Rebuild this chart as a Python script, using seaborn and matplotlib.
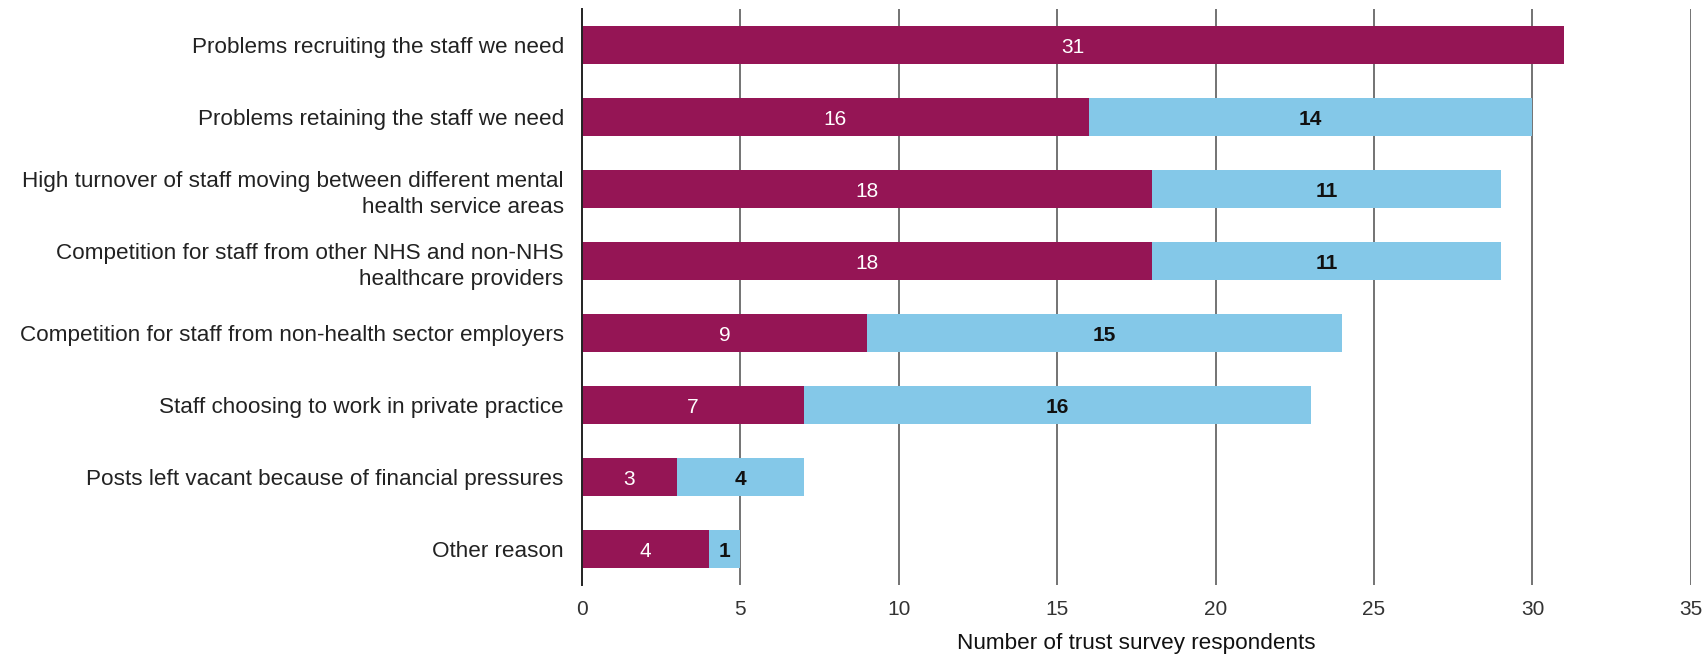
import matplotlib
matplotlib.use("Agg")
import matplotlib.pyplot as plt
import seaborn as sns
import pandas as pd
import numpy as np

categories = [
    "Problems recruiting the staff we need",
    "Problems retaining the staff we need",
    "High turnover of staff moving between different mental\nhealth service areas",
    "Competition for staff from other NHS and non-NHS\nhealthcare providers",
    "Competition for staff from non-health sector employers",
    "Staff choosing to work in private practice",
    "Posts left vacant because of financial pressures",
    "Other reason",
]
maroon_values = [31, 16, 18, 18, 9, 7, 3, 4]
blue_values = [0, 14, 11, 11, 15, 16, 4, 1]
x_ticks = [0, 5, 10, 15, 20, 25, 30, 35]
x_label = "Number of trust survey respondents"

MAROON = "#951555"
BLUE = "#84C8E8"

sns.set_theme(style="white")
plt.rcParams["font.family"] = ["Liberation Sans", "DejaVu Sans"]

df = pd.DataFrame({
    "category": categories,
    "maroon": maroon_values,
    "blue": blue_values,
})
df["total"] = df["maroon"] + df["blue"]

fig = plt.figure(figsize=(17.08, 6.59), dpi=100)
ax = fig.add_axes([0.3407, 0.1123, 0.6493, 0.8737])

sns.barplot(data=df, y="category", x="total", color=BLUE, orient="h",
            width=0.53, ax=ax, saturation=1, zorder=3, linewidth=0, edgecolor="none")
sns.barplot(data=df, y="category", x="maroon", color=MAROON, orient="h",
            width=0.53, ax=ax, saturation=1, zorder=3, linewidth=0, edgecolor="none")

for i, (m, b) in enumerate(zip(maroon_values, blue_values)):
    if m > 0:
        ax.text(m / 2, i + 0.03, str(m), ha="center", va="center", color="white",
                fontsize=15, zorder=5)
    if b > 0:
        ax.text(m + b / 2, i + 0.03, str(b), ha="center", va="center", color="#111111",
                fontsize=15, fontweight="bold", zorder=5)

ax.set_xlim(0, 35)
ax.set_ylim(7.5, -0.5)
ax.set_xticks(x_ticks)
ax.set_xticklabels([str(t) for t in x_ticks], fontsize=15, color="#333333")
ax.tick_params(axis="x", length=0, pad=11)
ax.tick_params(axis="y", length=0, pad=13, labelsize=16.2, labelcolor="#222222")
for lbl in ax.get_yticklabels():
    lbl.set_horizontalalignment("right")
    lbl.set_multialignment("right")
    lbl.set_linespacing(1.35)
ax.set_ylabel("")
ax.set_xlabel(x_label, fontsize=16.2, color="#111111", labelpad=10)

for t in x_ticks[1:]:
    ax.axvline(t, color="#737373", linewidth=1.4, zorder=1)
for s in ["top", "right", "bottom"]:
    ax.spines[s].set_visible(False)
ax.spines["left"].set_visible(True)
ax.spines["left"].set_color("#222222")
ax.spines["left"].set_linewidth(1.4)
ax.spines["left"].set_zorder(4)
ax.grid(False)

fig.savefig("out.png", dpi=100)
